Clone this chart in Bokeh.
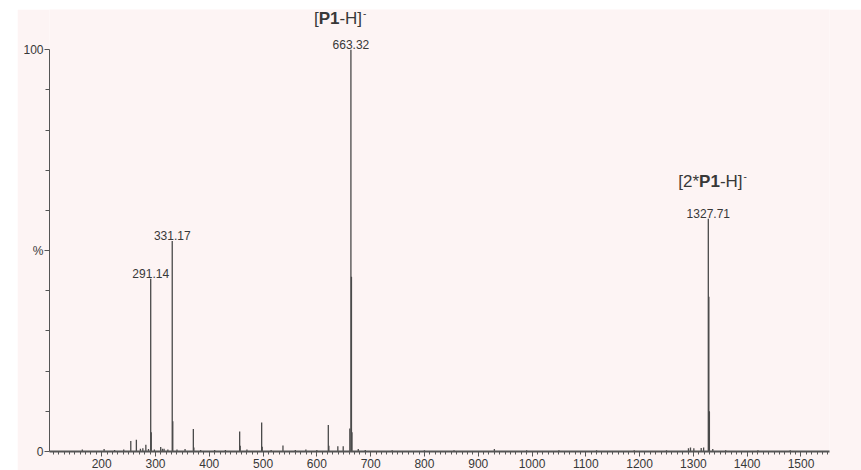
from bokeh.plotting import figure
from bokeh.models import Range1d, FixedTicker, Label, Spacer, ColumnDataSource
from bokeh.layouts import column, row
from bokeh.embed import file_html
from bokeh.resources import INLINE
from bokeh.core.properties import value

# ---------------- data ----------------
peak_mz = [
    164.0, 204.5, 224.0, 241.0, 254.1, 264.5, 272.0, 276.5, 282.1, 287.0,
    291.14, 292.14, 298.0, 309.7, 313.0, 316.0, 323.0,
    331.17, 332.17, 340.0, 355.0, 370.4, 371.4, 384.0, 410.0, 430.0,
    456.5, 457.5, 470.0, 497.4, 498.4, 515.0, 537.0, 560.0, 579.6, 600.0,
    621.3, 622.3, 639.0, 649.0, 661.3, 663.32, 664.32, 665.32, 677.0, 690.0,
    740.0, 800.0, 855.0, 930.0, 990.0, 1050.0, 1120.0, 1190.0, 1250.0, 1290.8,
    1294.6, 1300.8, 1314.5, 1319.0, 1327.71, 1328.71, 1329.71, 1336.0,
    1360.0, 1420.0, 1480.0,
]
peak_int = [
    0.5, 0.6, 0.4, 0.5, 2.6, 2.9, 0.7, 0.8, 1.7, 0.6,
    43.0, 4.8, 0.5, 1.1, 0.7, 0.7, 0.5,
    52.4, 7.5, 0.5, 0.6, 5.6, 1.0, 0.4, 0.4, 0.4,
    5.0, 1.4, 0.5, 7.2, 1.2, 0.4, 1.5, 0.4, 0.5, 0.4,
    6.6, 1.4, 1.3, 1.3, 5.7, 100.0, 43.5, 4.8, 0.6, 0.4,
    0.3, 0.3, 0.3, 0.6, 0.3, 0.3, 0.3, 0.3, 0.3, 0.8,
    1.0, 0.8, 0.9, 1.0, 57.9, 38.5, 10.0, 0.6,
    0.3, 0.3, 0.3,
]

label_mz = [291.14, 331.17, 663.32, 1327.71]
label_int = [43.0, 52.4, 100.0, 57.9]
label_text = ["291.14", "331.17", "663.32", "1327.71"]

x_ticks = list(range(200, 1600, 100))
x_minor = list(range(110, 1560, 10))
y_ticks = [0, 50, 100]
y_minor = [10, 20, 30, 40, 60, 70, 80, 90]
y_tick_labels = {0: "0", 50: "%", 100: "100"}

X_START, X_END = 103, 1553
Y_START, Y_END = 0, 110

# ---------------- style ----------------
PINK = "#fdf4f4"
INK = "#4a4a4a"
TXT = "#383838"
FONT = "Liberation Sans"

p = figure(width=844, height=461,
           x_range=Range1d(X_START, X_END), y_range=Range1d(Y_START, Y_END),
           output_backend="svg", toolbar_location=None,
           min_border_left=32, min_border_right=32,
           min_border_top=0, min_border_bottom=0,
           background_fill_color=PINK, border_fill_color=PINK,
           outline_line_color=None)
p.xgrid.visible = False
p.ygrid.visible = False

xa = p.xaxis[0]
xa.ticker = FixedTicker(ticks=x_ticks, minor_ticks=x_minor)
xa.axis_line_color = "#555555"
xa.axis_line_width = 2
xa.major_tick_line_color = "#555555"
xa.minor_tick_line_color = "#555555"
xa.major_tick_out = 5
xa.major_tick_in = 0
xa.minor_tick_out = 3
xa.minor_tick_in = 0
xa.major_label_standoff = 2
xa.major_label_text_font = FONT
xa.major_label_text_font_size = "12px"
xa.major_label_text_color = TXT

ya = p.yaxis[0]
ya.ticker = FixedTicker(ticks=y_ticks, minor_ticks=y_minor)
ya.major_label_overrides = y_tick_labels
ya.bounds = (0, 100)
ya.axis_line_color = "#555555"
ya.axis_line_width = 1
ya.major_tick_line_color = "#555555"
ya.minor_tick_line_color = "#555555"
ya.major_tick_out = 5
ya.major_tick_in = 0
ya.minor_tick_out = 4
ya.minor_tick_in = 0
ya.major_label_standoff = 1
ya.major_label_text_font = FONT
ya.major_label_text_font_size = "12px"
ya.major_label_text_color = TXT

src = ColumnDataSource(dict(mz=peak_mz, inten=peak_int, base=[0] * len(peak_mz)))
p.segment(x0="mz", y0="base", x1="mz", y1="inten", source=src,
          line_color=INK, line_width=1.3)

# numeric peak labels just above each labelled peak
for mz, inten, txt in zip(label_mz, label_int, label_text):
    p.add_layout(Label(x=mz, y=inten, y_offset=1, text=txt,
                       text_font=FONT, text_font_size="12px", text_color=TXT,
                       text_align="center", text_baseline="bottom"))


def ion_label(mz, inten, pieces, dx, dy):
    # pieces: list of (text, bold, width_em)
    fs = 17
    x = dx
    for txt, bold, w in pieces:
        p.add_layout(Label(x=mz, y=inten, x_offset=x, y_offset=dy, text=txt,
                           text_font=FONT, text_font_size=f"{fs}px",
                           text_font_style="bold" if bold else "normal",
                           text_color=TXT, text_align="left",
                           text_baseline="middle"))
        x += w * fs
    p.add_layout(Label(x=mz, y=inten, x_offset=x + 1, y_offset=dy + 6, text="-",
                       text_font=FONT, text_font_size="10px",
                       text_color=TXT, text_align="left", text_baseline="middle"))


ion_label(663.32, 100.0,
          [("[", False, 0.278), ("P1", True, 1.223), ("-H]", False, 1.333)],
          -37, 31)
ion_label(1327.71, 57.9,
          [("[2*", False, 1.223), ("P1", True, 1.223), ("-H]", False, 1.333)],
          -30, 37)

p.add_layout(Label(x=X_END, y=0, x_offset=5, y_offset=-1, text="m/z",
                   text_font=FONT, text_font_size="12px", text_color=TXT,
                   text_align="left", text_baseline="middle"))

layout = column(Spacer(width=861, height=9),
                row(Spacer(width=17, height=461), p))

open("out.html", "w").write(file_html(layout, INLINE))
